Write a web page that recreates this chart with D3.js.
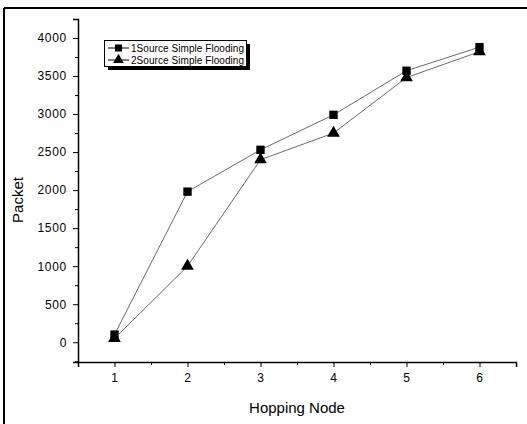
<!DOCTYPE html>
<html>
<head>
<meta charset="utf-8">
<script src="https://cdn.jsdelivr.net/npm/d3@7"></script>
<style>
body { margin: 0; background: #fff; }
svg { display: block; font-family: "Liberation Sans", Arial, sans-serif; }
</style>
</head>
<body>
<svg width="527" height="424"></svg>
<script>
var nodes = [1, 2, 3, 4, 5, 6];
var oneSource = [100, 1980, 2530, 2990, 3570, 3880];
var twoSource = [50, 1000, 2400, 2750, 3480, 3820];
var seriesNames = ["1Source Simple Flooding", "2Source Simple Flooding"];
var yTicks = [0, 500, 1000, 1500, 2000, 2500, 3000, 3500, 4000];

var svg = d3.select("svg");

// frame (only top and left edges are visible in the scan)
svg.append("line").attr("x1", 4).attr("y1", 8).attr("x2", 527).attr("y2", 8)
	.attr("stroke", "#000").attr("stroke-width", 2);
svg.append("line").attr("x1", 4).attr("y1", 8).attr("x2", 4).attr("y2", 424)
	.attr("stroke", "#000").attr("stroke-width", 2);

var x = d3.scaleLinear().domain([0.5, 6.5]).range([78, 516]);
var y = d3.scaleLinear().domain([-260, 4250]).range([362, 19]);

// minor ticks
var xMinor = d3.range(1.5, 6.5, 1);
var yMinor = d3.range(-250, 4250, 500);

svg.append("g").attr("transform", "translate(0,362)")
	.call(d3.axisBottom(x).tickValues(nodes).tickSize(5).tickPadding(6).tickFormat(d3.format("d")));
svg.append("g").attr("transform", "translate(0,362)")
	.call(d3.axisBottom(x).tickValues(xMinor).tickSize(3).tickFormat(""))
	.select(".domain").remove();

svg.append("g").attr("transform", "translate(78,0)")
	.call(d3.axisLeft(y).tickValues(yTicks).tickSize(5).tickPadding(6).tickFormat(d3.format("d")));
svg.append("g").attr("transform", "translate(78,0)")
	.call(d3.axisLeft(y).tickValues(yMinor).tickSize(3).tickFormat(""))
	.select(".domain").remove();

svg.selectAll(".domain").attr("stroke", "#000").attr("stroke-width", 1.5);
svg.selectAll(".tick text").attr("font-size", 12).attr("letter-spacing", 0.7).attr("fill", "#000");

// axis titles
svg.append("text").attr("x", 297).attr("y", 413).attr("text-anchor", "middle")
	.attr("font-size", 15).text("Hopping Node");
svg.append("text").attr("transform", "translate(23,200) rotate(-90)").attr("text-anchor", "middle")
	.attr("font-size", 15).text("Packet");

var line = d3.line().x(function(d, i) { return x(nodes[i]); }).y(function(d) { return y(d); });

var series = [oneSource, twoSource];
var symbols = [d3.symbolSquare, d3.symbolTriangle];
var sizes = [70, 70];

series.forEach(function(s, k) {
	svg.append("path").datum(s).attr("d", line)
		.attr("fill", "none").attr("stroke", "#444").attr("stroke-width", 0.8);
	svg.append("g").selectAll("path").data(s).enter().append("path")
		.attr("transform", function(d, i) { return "translate(" + x(nodes[i]) + "," + y(d) + ")"; })
		.attr("d", d3.symbol().type(symbols[k]).size(sizes[k]))
		.attr("fill", "#000");
});

// legend
var lg = svg.append("g");
lg.append("rect").attr("x", 108).attr("y", 44).attr("width", 142).attr("height", 26).attr("fill", "#000");
lg.append("rect").attr("x", 104.5).attr("y", 40.5).attr("width", 142).attr("height", 26)
	.attr("fill", "#fff").attr("stroke", "#000").attr("stroke-width", 1);
seriesNames.forEach(function(name, k) {
	var ly = 48 + k * 12;
	lg.append("line").attr("x1", 108).attr("x2", 129).attr("y1", ly).attr("y2", ly)
		.attr("stroke", "#000").attr("stroke-width", 1);
	lg.append("path").attr("transform", "translate(118.5," + ly + ")")
		.attr("d", d3.symbol().type(symbols[k]).size(50)).attr("fill", "#000");
	lg.append("text").attr("x", 131).attr("y", ly + 3.5).attr("font-size", 10)
		.attr("textLength", 113).text(name);
});
</script>
</body>
</html>
